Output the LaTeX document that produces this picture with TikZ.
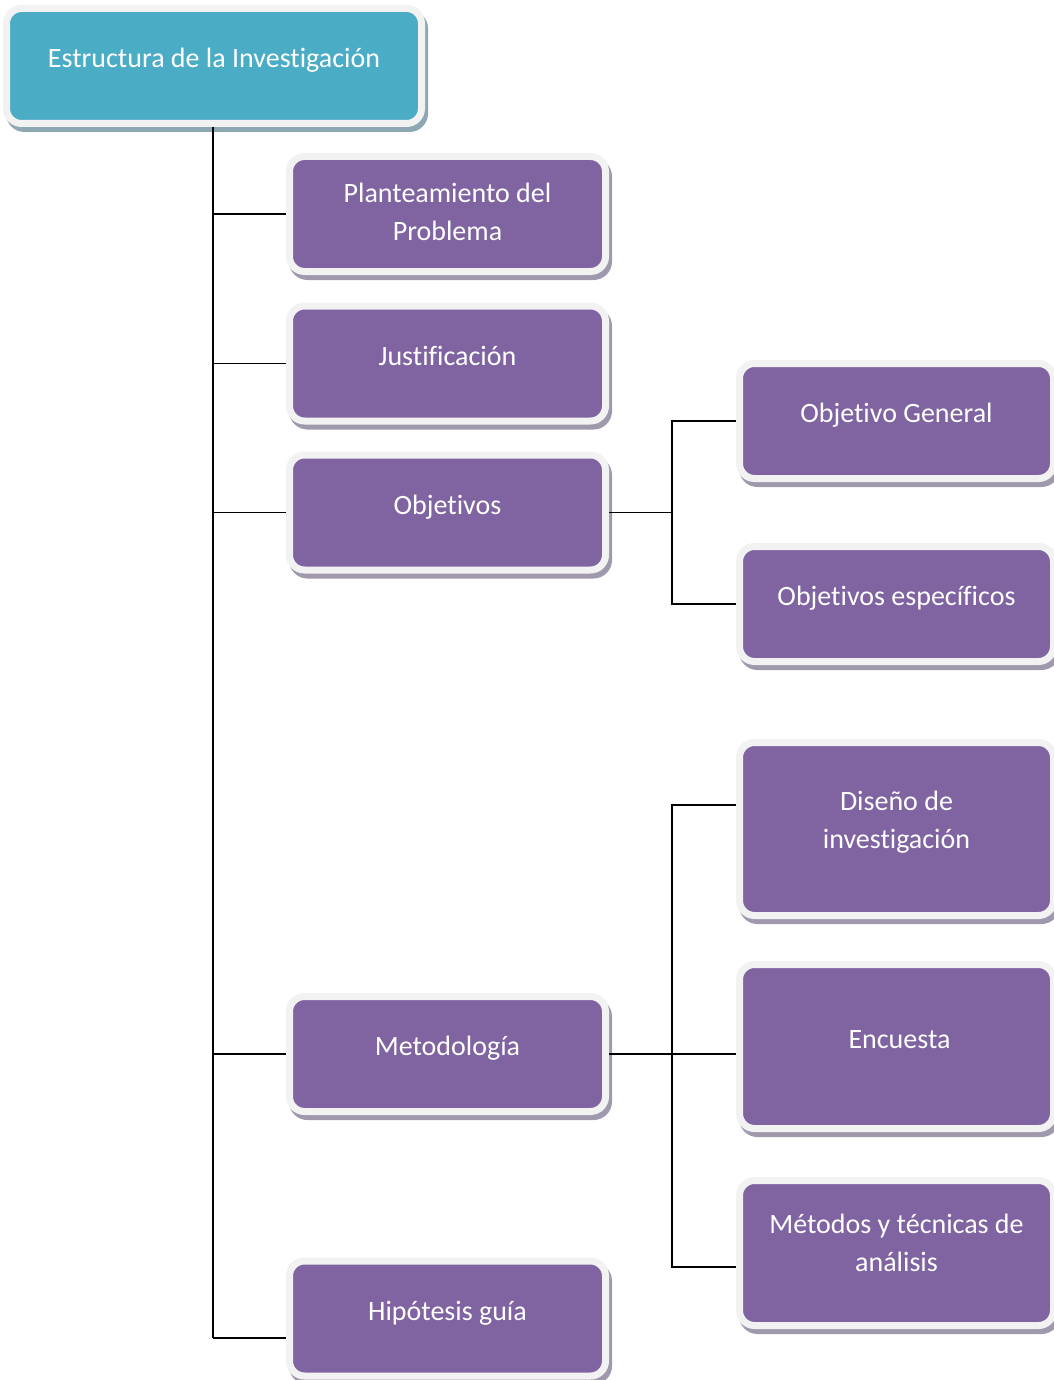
\documentclass[tikz,border=0pt]{standalone}
\usepackage{fontspec}
\setmainfont{Carlito}[Ligatures={NoCommon,NoContextual}]
\usetikzlibrary{shadows}
\definecolor{purp}{HTML}{8064A2}
\definecolor{tealc}{HTML}{4BACC6}
\definecolor{bordc}{HTML}{F2F2F2}
\definecolor{pshad}{HTML}{A098AC}
\definecolor{tshad}{HTML}{8DA8B3}
\newcommand\tx[2]{\raisebox{#1}[0pt][0pt]{\begin{tabular}[b]{@{}c@{}}#2\end{tabular}}}
\tikzset{
  basebox/.style={rectangle, rounded corners=15pt, draw=bordc, line width=7pt,
    text=white, font=\fontsize{28}{38}\selectfont, inner sep=0pt},
  pbox/.style={basebox, fill=purp, minimum height=115pt,
    drop shadow={shadow xshift=3pt, shadow yshift=-5pt, fill=pshad, draw=pshad, line width=7pt, opacity=1}},
  c1/.style={pbox, minimum width=316pt},
  c2/.style={pbox, minimum width=314pt},
  rootbox/.style={basebox, fill=tealc, minimum width=415pt, minimum height=115pt,
    drop shadow={shadow xshift=3pt, shadow yshift=-5pt, fill=tshad, draw=tshad, line width=7pt, opacity=1}},
  conn/.style={draw=black, line width=1.8pt},
  trunk/.style={draw=black, line width=2.2pt}
}
\begin{document}
\begin{tikzpicture}[x=1pt,y=-1pt]
\useasboundingbox (0,0) rectangle (1053,1380);
\fill[white] (0,0) rectangle (1053,1380);
% root
\node[rootbox] (root) at (214,66) {\tx{-1.5pt}{Estructura de la Investigación}};
% column 1
\node[c1] (plan) at (447.5,214) {\tx{-27pt}{Planteamiento del\\Problema}};
\node[c1] (just) at (447.5,363.5) {\tx{-1.5pt}{Justificación}};
\node[c1] (obj) at (447.5,512.5) {\tx{-1.5pt}{Objetivos}};
\node[c1] (met) at (447.5,1054) {\tx{-1.5pt}{Metodología}};
\node[c1] (hyp) at (447.5,1318.5) {\tx{-1.5pt}{Hipótesis guía}};
% column 2
\node[c2] (og) at (896.5,421) {\tx{-1.5pt}{Objetivo General}};
\node[c2] (oe) at (896.5,604) {\tx{-1.5pt}{Objetivos específicos}};
\node[c2, minimum height=173pt] (dis) at (896.5,829) {\tx{-19pt}{Diseño de\\investigación}};
\node[c2, minimum height=164pt] (enc) at (896.5,1046.5) {\hspace*{6pt}\tx{-1.5pt}{Encuesta}};
\node[c2, minimum height=145pt] (mtd) at (896.5,1253) {\tx{-18pt}{Métodos y técnicas de\\análisis}};
% junction coordinates
\coordinate (tb) at (213,1338);
\coordinate (b1) at (672,512.5);
\coordinate (b2top) at (672,805);
\coordinate (b2bot) at (672,1267);
% trunk and branches
\draw[trunk] (root.south -| tb) -- (tb);
\draw[conn] (tb |- plan.west) -- (plan.west);
\draw[conn] (tb |- just.west) -- (just.west);
\draw[conn] (tb |- obj.west) -- (obj.west);
\draw[conn] (tb |- met.west) -- (met.west);
\draw[conn] (tb) -- (tb -| hyp.west);
% objetivos branch
\draw[conn] (obj.east) -- (b1);
\draw[conn] (og.west) -| (b1) |- (oe.west);
% metodologia branch
\draw[conn] (met.east) -- (met.east -| enc.west);
\draw[conn] (b2top -| dis.west) -- (b2top) -- (b2bot) -- (b2bot -| mtd.west);
\end{tikzpicture}
\end{document}
